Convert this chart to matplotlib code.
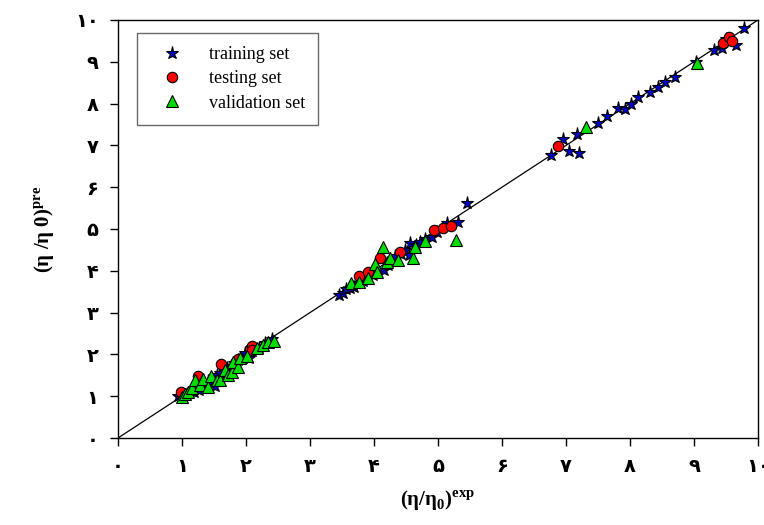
import matplotlib.pyplot as plt

train_x = [0.93, 0.98, 1.02, 1.06, 1.10, 1.14, 1.18, 1.22, 1.26, 1.30, 1.35, 1.40, 1.45, 1.52,
           1.55, 1.60, 1.65, 1.70, 1.76, 1.82, 1.88, 1.95, 1.98, 2.04, 2.10, 2.20, 2.30, 2.40,
           3.46, 3.52, 3.57, 3.63, 3.68, 3.75, 3.83, 3.90, 3.99, 4.07, 4.15, 4.22, 4.33, 4.42,
           4.48, 4.54, 4.56, 4.65, 4.72, 4.80, 4.90, 4.98, 5.14, 5.32, 5.45,
           6.76, 6.96, 7.04, 7.20, 7.17, 7.50, 7.64, 7.82, 7.92, 8.02, 8.13, 8.32, 8.43, 8.54,
           8.70, 9.03, 9.32, 9.43, 9.66, 9.78, 9.50]
train_y = [1.01, 0.96, 1.05, 1.02, 1.08, 1.12, 1.10, 1.20, 1.15, 1.30, 1.25, 1.36, 1.32, 1.24,
           1.50, 1.55, 1.62, 1.68, 1.72, 1.80, 1.86, 1.92, 2.03, 1.91, 2.08, 2.16, 2.28, 2.36,
           3.42, 3.46, 3.56, 3.58, 3.62, 3.70, 3.76, 3.84, 3.90, 3.98, 4.02, 4.15, 4.35, 4.40,
           4.50, 4.38, 4.66, 4.62, 4.70, 4.76, 4.80, 4.92, 5.14, 5.17, 5.63,
           6.78, 7.15, 6.87, 6.83, 7.27, 7.54, 7.70, 7.89, 7.86, 8.00, 8.15, 8.28, 8.39, 8.52,
           8.63, 9.00, 9.28, 9.32, 9.39, 9.82, 9.55]

test_x = [0.98, 1.25, 1.61, 1.88, 2.06, 2.10, 2.09,
          3.76, 3.90, 4.10, 4.40, 4.93, 5.08, 5.20,
          6.88, 9.46, 9.54, 9.60]
test_y = [1.10, 1.48, 1.76, 1.90, 2.12, 2.20, 2.11,
          3.88, 3.98, 4.30, 4.46, 4.98, 5.02, 5.07,
          6.99, 9.46, 9.60, 9.49]

val_x = [1.00, 1.05, 1.10, 1.15, 1.20, 1.28, 1.33, 1.41, 1.46, 1.54, 1.59, 1.67, 1.72, 1.78,
         1.80, 1.88, 1.91, 2.01, 2.17, 2.27, 2.35, 2.43,
         3.64, 3.77, 3.91, 4.02, 4.04, 4.14, 4.20, 4.25, 4.38, 4.61, 4.64, 4.79, 5.28,
         7.32, 9.05]
val_y = [0.99, 1.05, 1.11, 1.20, 1.39, 1.27, 1.40, 1.23, 1.48, 1.39, 1.39, 1.63, 1.51, 1.59,
         1.83, 1.71, 1.91, 1.95, 2.15, 2.23, 2.30, 2.33,
         3.72, 3.74, 3.82, 4.16, 3.98, 4.58, 4.22, 4.30, 4.26, 4.30, 4.58, 4.72, 4.74,
         7.43, 8.98]

ticks = list(range(11))
tick_labels = ['۰', '۱', '۲', '۳', '۴', '۵', '۶', '۷', '۸', '۹', '۱۰']

plt.rcParams['mathtext.fontset'] = 'custom'
plt.rcParams['mathtext.rm'] = 'Liberation Serif'
plt.rcParams['mathtext.bf'] = 'Liberation Serif:bold'

fig = plt.figure(figsize=(7.64, 5.25), dpi=100)
ax = fig.add_axes([118 / 764, 87 / 525, 640 / 764, 418 / 525])

ax.plot([0, 10], [0, 10], color='black', lw=0.9, zorder=1)
ax.plot(train_x, train_y, ls='none', marker='*', ms=9.5, mfc='#0000cc', mec='black',
        mew=0.8, label='training set', zorder=2)
ax.plot(test_x, test_y, ls='none', marker='o', ms=7.5, mfc='#ff0000', mec='black',
        mew=0.8, label='testing set', zorder=3)
ax.plot(val_x, val_y, ls='none', marker='^', ms=8.5, mfc='#00dd00', mec='black',
        mew=0.8, label='validation set', zorder=4)

ax.set_xlim(0, 10)
ax.set_ylim(0, 10)
ax.set_xticks(ticks)
ax.set_yticks(ticks)
ax.set_xticklabels(tick_labels, fontsize=14, fontweight='bold', family='DejaVu Sans')
ax.set_yticklabels(tick_labels, fontsize=14, fontweight='bold', family='DejaVu Sans')
ax.tick_params(direction='out', length=6, width=1, top=False, right=False, pad=8)
for s in ax.spines.values():
    s.set_linewidth(1)

ax.set_xlabel(r'(η/η$_{\mathbf{0}}$)$^{\mathbf{exp}}$', fontsize=15, fontweight='bold',
              family='Liberation Serif')
ax.set_ylabel(r'(η /η $\mathbf{0}$)$^{\mathbf{pre}}$', fontsize=15, fontweight='bold',
              family='Liberation Serif')
ax.xaxis.set_label_coords(0.5, -0.122)
ax.yaxis.set_label_coords(-0.095, 0.5)

leg = ax.legend(loc='upper left', bbox_to_anchor=(0.03, 0.97), frameon=True, fancybox=False,
                prop={'family': 'Liberation Serif', 'size': 13}, handletextpad=0.8,
                handlelength=2.4, borderpad=0.75, labelspacing=0.4, borderaxespad=0)
leg.get_frame().set_edgecolor('#444444')
leg.get_frame().set_linewidth(1)

fig.savefig('out.png', dpi=100)
